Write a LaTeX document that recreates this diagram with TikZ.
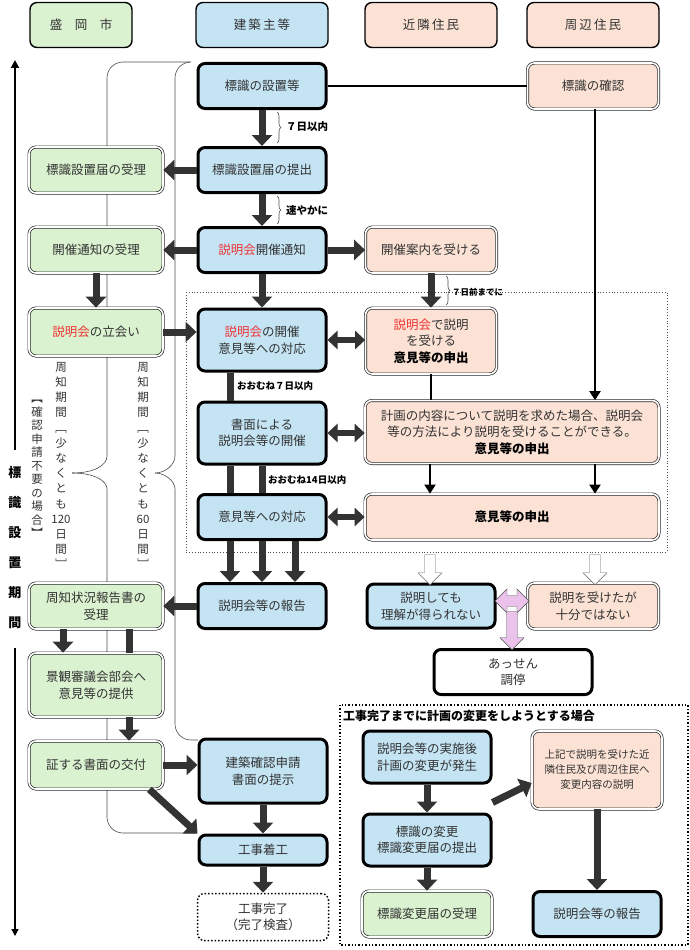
\documentclass[tikz,border=0pt]{standalone}
\usepackage{fontspec}
\setmainfont{Noto Sans CJK JP}
\usetikzlibrary{arrows.meta,shapes.arrows,decorations.pathreplacing}
\definecolor{gr}{HTML}{DAF2D0}
\definecolor{bl}{HTML}{C4E4F4}
\definecolor{orr}{HTML}{FBE2D5}
\definecolor{pk}{HTML}{EBC2EB}
\definecolor{dk}{HTML}{333333}
\definecolor{rd}{HTML}{EE3333}
\newcommand{\setu}{\textcolor{rd}{説明会}}
\begin{document}
\begin{tikzpicture}[x=1pt,y=-1pt,
  every node/.style={font=\fontsize{12.5}{16.5}\selectfont, text=black!80, align=center, inner sep=0pt},
  hd/.style={draw=black, line width=1.4pt, rounded corners=7pt, minimum height=45pt, minimum width=132pt},
  bx/.style={draw=black!85, line width=0.7pt, double=white, double distance=1.6pt, rounded corners=7pt, minimum width=131pt},
  bb/.style={draw=black, line width=3pt, rounded corners=7pt, minimum width=128pt},
  arr/.style={draw=dk, line width=7pt, -{Triangle[width=20pt,length=11pt]}},
  bar/.style={draw=dk, line width=7pt},
  darr/.style={draw=dk, line width=6pt, {Triangle[width=18pt,length=10pt]}-{Triangle[width=18pt,length=10pt]}},
  thin/.style={draw=black, line width=2pt, -{Triangle[width=11pt,length=9pt]}},
  lbl/.style={font=\fontsize{10.5}{12}\selectfont\bfseries, text=black, anchor=west},
  vt/.style={font=\fontsize{11.5}{15.2}\selectfont, text=black!80},
  harr/.style={single arrow, draw=black!60, fill=white, rotate=-90, inner sep=4pt, minimum height=30pt, minimum width=24pt, single arrow head extend=5pt},
  crv/.style={draw=black!70, line width=0.6pt, rounded corners=16pt}]
\useasboundingbox (0,0) rectangle (690,950);
% decorative braces
\draw[crv] (190,62) -- (107,62) -- (107,440) .. controls (107,465) and (95,473) .. (72,473);
\draw[crv] (72,473) .. controls (95,473) and (107,481) .. (107,505) -- (107,833) -- (197,833);
\draw[crv] (190,62) -- (175,62) -- (175,440) .. controls (175,465) and (165,473) .. (155,473);
\draw[crv] (155,473) .. controls (165,473) and (175,481) .. (175,505) -- (175,740) -- (198,740);
% dotted regions
\draw[black!70, dotted, line width=0.8pt] (186,292) rectangle (667,552);
\draw[black, dotted, line width=1.4pt] (340,705) rectangle (688,945);
\node[font=\fontsize{12}{14}\selectfont\bfseries, text=black, anchor=west] (ttl) at (343,716) {工事完了までに計画の変更をしようとする場合};
% headers
\node[hd, fill=gr, minimum width=102pt] (h1) at (81,25) {盛\quad 岡\quad 市};
\node[hd, fill=bl] (h2) at (262,25) {建\,築\,主\,等};
\node[hd, fill=orr] (h3) at (431,25) {近\,隣\,住\,民};
\node[hd, fill=orr] (h4) at (593,25) {周\,辺\,住\,民};
% blue column
\node[bb, fill=bl, minimum height=45pt] (b1) at (262,86) {標識の設置等};
\node[bb, fill=bl, minimum height=45pt] (b2) at (262,170) {標識設置届の提出};
\node[bb, fill=bl, minimum height=45pt] (b3) at (262,250) {\setu 開催通知};
\node[bb, fill=bl, minimum height=62pt] (b4) at (262,340) {\setu の開催\\意見等への対応};
\node[bb, fill=bl, minimum height=62pt] (b5) at (262,433) {書面による\\説明会等の開催};
\node[bb, fill=bl, minimum height=45pt] (b6) at (262,517) {意見等への対応};
\node[bb, fill=bl, minimum height=45pt] (b7) at (262,606) {説明会等の報告};
\node[bb, fill=bl, minimum height=64pt] (b8) at (263,771) {建築確認申請\\書面の提示};
\node[bb, fill=bl, minimum height=30pt] (b9) at (263,850) {工事着工};
\node[draw=black, line width=1.5pt, dotted, rounded corners=7pt, minimum width=131pt, minimum height=47pt, fill=white] (b10) at (263,917) {工事完了\\（完了検査）};
% green column
\node[bx, fill=gr, minimum width=134pt, minimum height=46pt] (g1) at (96,170) {標識設置届の受理};
\node[bx, fill=gr, minimum width=134pt, minimum height=46pt] (g2) at (96,250) {開催通知の受理};
\node[bx, fill=gr, minimum width=134pt, minimum height=48pt] (g3) at (96,332) {\setu の立会い};
\node[bx, fill=gr, minimum width=134pt, minimum height=46pt] (g4) at (96,606) {周知状況報告書の\\受理};
\node[bx, fill=gr, minimum width=134pt, minimum height=64pt] (g5) at (96,685) {景観審議会部会へ\\意見等の提供};
\node[bx, fill=gr, minimum width=134pt, minimum height=48pt] (g6) at (96,765) {証する書面の交付};
% orange
\node[bx, fill=orr, minimum height=46pt] (o1) at (593,86) {標識の確認};
\node[bx, fill=orr, minimum height=46pt] (o2) at (431,250) {開催案内を受ける};
\node[bx, fill=orr, minimum height=66pt] (o3) at (431,341) {\setu で説明\\を受ける\\{\bfseries\color{black}意見等の申出}};
\node[bx, fill=orr, minimum width=294pt, minimum height=63pt] (o4) at (512,432) {計画の内容について説明を求めた場合、説明会\\等の方法により説明を受けることができる。\\{\bfseries\color{black}意見等の申出}};
\node[bx, fill=orr, minimum width=294pt, minimum height=46pt] (o5) at (512,517) {\bfseries\color{black}意見等の申出};
\node[bb, fill=bl, minimum height=44pt] (n1) at (431,606) {説明しても\\理解が得られない};
\node[bx, fill=orr, minimum height=46pt] (o6) at (593,606) {説明を受けたが\\十分ではない};
\node[bb, fill=white, minimum width=158pt, minimum height=45pt] (m1) at (513,672) {あっせん\\調停};
% change section
\node[bb, fill=bl, minimum height=52pt] (c1) at (427,757) {説明会等の実施後\\計画の変更が発生};
\node[bb, fill=bl, minimum height=52pt] (c2) at (427,840) {標識の変更\\標識変更届の提出};
\node[bx, fill=gr, minimum width=130pt, minimum height=46pt] (c3) at (427,914) {標識変更届の受理};
\node[bx, fill=orr, minimum width=130pt, minimum height=78pt, font=\fontsize{10.5}{15}\selectfont] (c4) at (597,770) {上記で説明を受けた近\\隣住民及び周辺住民へ\\変更内容の説明};
\node[bb, fill=bl, minimum height=45pt] (c5) at (597,914) {説明会等の報告};
% left period axis
\coordinate (ax1) at (15,450); \coordinate (ax0) at (15,60);
\coordinate (ax2) at (15,648); \coordinate (ax3) at (15,936);
\draw[line width=1.8pt, -{Triangle[width=8pt,length=8pt]}] (ax1) -- (ax0);
\draw[line width=1.3pt, -{Triangle[width=7pt,length=7pt]}] (ax2) -- (ax3);
\node[font=\fontsize{13}{30}\selectfont\bfseries, text=black] (per) at (15,548) {標\\識\\設\\置\\期\\間};
% vertical notes
\node[vt, anchor=north] (v1) at (61,362) {周\\知\\期\\間\\﹇\\少\\な\\く\\と\\も\\120\\日\\間\\﹈};
\node[vt, anchor=north, font=\fontsize{11.5}{13.5}\selectfont] (v2) at (37,400) {︻\\確\\認\\申\\請\\不\\要\\の\\場\\合\\︼};
\node[vt, anchor=north] (v3) at (143,362) {周\\知\\期\\間\\﹇\\少\\な\\く\\と\\も\\60\\日\\間\\﹈};
% arrows blue column
\draw[arr] (b1) -- (b2);
\draw[arr] (b2) -- (b3);
\draw[arr] (b3) -- (b4);
\draw[decorate, decoration={brace, amplitude=4pt}, black!70, line width=0.6pt] (277,112) -- (277,143);
\node[lbl] (l1) at (286,127) {７日以内};
\draw[decorate, decoration={brace, amplitude=4pt}, black!70, line width=0.6pt] (277,196) -- (277,224);
\node[lbl] (l2) at (286,210) {速やかに};
\draw[bar] (b4.south -| 230,0) -- (b5.north -| 230,0);
\node[lbl, font=\fontsize{9.5}{11}\selectfont\bfseries] (l3) at (237,386) {おおむね７日以内};
\draw[bar] (b5.south -| 230,0) -- (b6.north -| 230,0);
\draw[bar] (b5.south -| 262,0) -- (b6.north -| 262,0);
\node[lbl, font=\fontsize{9.5}{11}\selectfont\bfseries] (l4) at (268,480) {おおむね14日以内};
\draw[arr] (b6.south -| 230,0) -- (b7.north -| 230,0);
\draw[arr] (b6.south -| 262,0) -- (b7.north -| 262,0);
\draw[arr] (b6.south -| 295,0) -- (b7.north -| 295,0);
\draw[arr] (b2) -- (g1);
\draw[arr] (b3) -- (g2);
\draw[arr] (b3) -- (o2);
\draw[arr] (g2) -- (g3);
\draw[arr] (g3.east) -- (b4.west |- g3.east);
\draw[arr] (b7) -- (g4);
\draw[arr] (g4.south -| 63,0) -- (g5.north -| 63,0);
\draw[bar] (g4.south -| 129,0) -- (g5.north -| 129,0);
\draw[arr] (g5.south -| 129,0) -- (g6.north -| 129,0);
\draw[arr] (g6.east) -- (b8.west |- g6.east);
\draw[arr] (g6.south east) ++(-14,0) coordinate (dg) (dg) -- (b9.north west);
\draw[arr] (b8) -- (b9);
\draw[arr] (b9) -- (b10);
% neighbours
\draw[line width=2.5pt] (b1) -- (o1);
\draw[arr] (o2) -- (o3);
\draw[decorate, decoration={brace, amplitude=4pt}, black!70, line width=0.6pt] (446,276) -- (446,305);
\node[lbl, font=\fontsize{8.5}{10}\selectfont\bfseries] (l5) at (452,292) {７日前までに};
\draw[line width=2.2pt] (o3.south) -- (o4.north -| o3.south);
\draw[thin] (o1.south -| 595,0) -- (o4.north -| 595,0);
\draw[thin] (o4.south -| 430,0) -- (o5.north -| 430,0);
\draw[thin] (o4.south -| 595,0) -- (o5.north -| 595,0);
\draw[darr] (b4.east) -- (o3.west |- b4.east);
\draw[darr] (b5.east) -- (o4.west |- b5.east);
\draw[darr] (b6.east) -- (o5.west |- b6.east);
\node[harr] (w1) at (430,567) {};
\node[harr] (w2) at (595,567) {};
\node[double arrow, draw=black!70, fill=pk, inner sep=4pt, minimum height=34pt, minimum width=24pt, double arrow head extend=5pt] (p1) at (512,601) {};
\node[single arrow, draw=black!70, fill=pk, rotate=-90, inner sep=4pt, minimum height=38pt, minimum width=24pt, single arrow head extend=5pt] (p2) at (512,628) {};
% change section arrows
\draw[arr] (c1) -- (c2);
\draw[arr] (c2) -- (c3);
\draw[arr] (c2.north east) ++(0,-10) coordinate (cc) (cc) -- (c4.west |- 0,783);
\draw[arr] (c4) -- (c5);
\end{tikzpicture}
\end{document}
